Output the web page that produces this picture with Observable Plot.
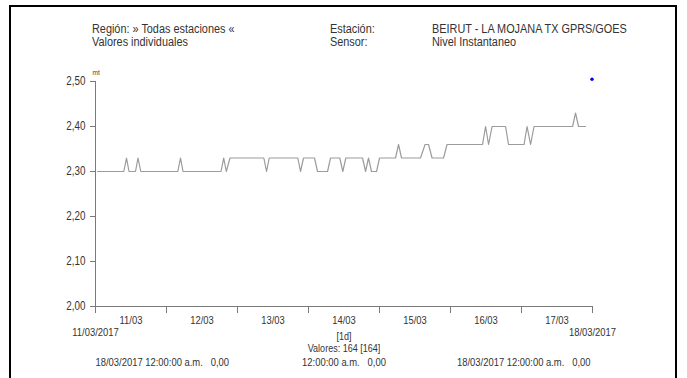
<!DOCTYPE html>
<html>
<head>
<meta charset="utf-8">
<script src="https://cdn.jsdelivr.net/npm/d3@7"></script>
<script src="https://cdn.jsdelivr.net/npm/@observablehq/plot@0.6"></script>
<style>
  html, body { margin: 0; padding: 0; background: #fff; }
  #wrap { position: relative; width: 687px; height: 378px; overflow: hidden; background: #fff;
          font-family: "Liberation Sans", Arial, sans-serif; color: #333; }
  #frame { position: absolute; left: 9px; top: 5px; width: 664px; height: 400px;
           border-left: 2px solid #000; border-top: 2px solid #000; border-right: 2px solid #000; }
  .h { position: absolute; font-size: 12.5px; white-space: pre; line-height: 12px; color: #333;
       transform: scaleX(0.87); transform-origin: 0 0; }
  #chart { position: absolute; left: 0; top: 0; }
</style>
</head>
<body>
<div id="wrap">
  <div id="chart"></div>
  <div id="frame"></div>
</div>
<script>
// ---- data ----
const times = [
  "2017-03-11T00:40","2017-03-11T09:34","2017-03-11T10:29","2017-03-11T11:20",
  "2017-03-11T13:31","2017-03-11T14:22","2017-03-11T15:19",
  "2017-03-12T03:49","2017-03-12T04:44","2017-03-12T05:35",
  "2017-03-12T18:26","2017-03-12T19:20","2017-03-12T20:13","2017-03-12T21:28",
  "2017-03-13T08:54","2017-03-13T09:49","2017-03-13T10:43",
  "2017-03-13T20:23","2017-03-13T21:18","2017-03-13T22:19",
  "2017-03-14T02:02","2017-03-14T03:03","2017-03-14T06:26","2017-03-14T07:27",
  "2017-03-14T10:35","2017-03-14T11:36","2017-03-14T12:37",
  "2017-03-14T18:16","2017-03-14T19:17","2017-03-14T20:17","2017-03-14T21:18",
  "2017-03-14T23:00","2017-03-15T00:01",
  "2017-03-15T05:25","2017-03-15T06:26","2017-03-15T07:27",
  "2017-03-15T13:52","2017-03-15T15:24","2017-03-15T16:35","2017-03-15T17:46",
  "2017-03-15T21:39","2017-03-15T22:50",
  "2017-03-16T10:50","2017-03-16T11:51","2017-03-16T12:52","2017-03-16T14:03",
  "2017-03-16T18:37","2017-03-16T19:37",
  "2017-03-17T00:52","2017-03-17T01:53","2017-03-17T03:04","2017-03-17T04:14",
  "2017-03-17T17:16","2017-03-17T18:16","2017-03-17T19:17","2017-03-17T21:39"
];
const values = [
  2.30,2.30,2.33,2.30,
  2.30,2.33,2.30,
  2.30,2.33,2.30,
  2.30,2.33,2.30,2.33,
  2.33,2.30,2.33,
  2.33,2.30,2.33,
  2.33,2.30,2.30,2.33,
  2.33,2.30,2.33,
  2.33,2.30,2.33,2.30,
  2.30,2.33,
  2.33,2.36,2.33,
  2.33,2.36,2.36,2.33,
  2.33,2.36,
  2.36,2.40,2.36,2.40,
  2.40,2.36,
  2.36,2.40,2.36,2.40,
  2.40,2.43,2.40,2.40
];
const markerTime = "2017-03-17T23:50";
const markerValue = 2.505;

const domainX = ["2017-03-11T00:00", "2017-03-18T00:00"];
const dayBounds = ["2017-03-11T00:00","2017-03-12T00:00","2017-03-13T00:00","2017-03-14T00:00",
                   "2017-03-15T00:00","2017-03-16T00:00","2017-03-17T00:00","2017-03-18T00:00"];
const dayLabels = ["11/03","12/03","13/03","14/03","15/03","16/03","17/03"];
const dayLabelTimes = ["2017-03-11T12:00","2017-03-12T12:00","2017-03-13T12:00","2017-03-14T12:00",
                       "2017-03-15T12:00","2017-03-16T12:00","2017-03-17T12:00"];
const endLabels = ["11/03/2017", "18/03/2017"];
const yTicks = [2.0, 2.1, 2.2, 2.3, 2.4, 2.5];
const yDomain = [2.0, 2.5];

const headerLeft = ["Región: » Todas estaciones «", "Valores individuales"];
const headerMid = ["Estación:", "Sensor:"];
const headerRight = ["BEIRUT - LA MOJANA TX GPRS/GOES", "Nivel Instantaneo"];
const unitLabel = "mt";
const intervalLabel = "[1d]";
const countLabel = "Valores: 164 [164]";
const footer = ["18/03/2017 12:00:00 a.m.\u00a0\u00a0\u00a00,00", "12:00:00 a.m.\u00a0\u00a0\u00a00,00", "18/03/2017 12:00:00 a.m.\u00a0\u00a0\u00a00,00"];

// ---- build ----
const parse = d3.utcParse("%Y-%m-%dT%H:%M");
const data = times.map((t, i) => ({t: parse(t), v: values[i]}));
const xDom = domainX.map(parse);
const bounds = dayBounds.map(parse);
const labelData = dayLabelTimes.map((t, i) => ({t: parse(t), s: dayLabels[i]}));
const endData = [{t: xDom[0], s: endLabels[0]}, {t: xDom[1], s: endLabels[1]}];
const fmtY = d => d.toFixed(2).replace(".", ",");
const axisColor = "#7a7a7a";
const textColor = "#333";
const fnt = "\"Liberation Sans\", Arial, sans-serif";
const fs = 11;

const chart = Plot.plot({
  width: 687, height: 378,
  marginLeft: 95, marginRight: 95, marginTop: 81, marginBottom: 72,
  style: {fontFamily: fnt, fontSize: "11px", color: textColor, background: "transparent"},
  x: {type: "utc", domain: xDom, axis: null},
  y: {domain: yDomain, axis: null},
  marks: [
    Plot.ruleY([yDomain[0]], {stroke: axisColor, strokeWidth: 1}),
    Plot.ruleX([xDom[0]], {y1: yDomain[0], y2: yDomain[1], stroke: axisColor, strokeWidth: 1}),
    Plot.axisY(yTicks, {tickSize: 5, tickPadding: 5, tickFormat: fmtY, stroke: axisColor, fill: textColor, fontSize: 12, label: null}),
    Plot.axisX(bounds, {tickSize: 7, tickFormat: () => "", stroke: axisColor, label: null}),
    Plot.text(labelData, {x: "t", text: "s", frameAnchor: "bottom", dy: 17, fill: textColor, fontSize: 11.5}),
    Plot.text(endData, {x: "t", text: "s", frameAnchor: "bottom", dy: 29, fill: textColor, fontSize: 11.5}),
    Plot.text([intervalLabel], {text: d => d, frameAnchor: "bottom", dy: 33, fill: textColor, fontSize: fs}),
    Plot.text([countLabel], {text: d => d, frameAnchor: "bottom", dy: 45, fill: textColor, fontSize: fs}),
    Plot.text([footer[0]], {text: d => d, frameAnchor: "bottom-left", textAnchor: "start", dy: 59, fill: textColor, fontSize: 11.5}),
    Plot.text([footer[1]], {text: d => d, frameAnchor: "bottom", dy: 59, fill: textColor, fontSize: 11.5}),
    Plot.text([footer[2]], {text: d => d, frameAnchor: "bottom-right", textAnchor: "end", dx: -2, dy: 59, fill: textColor, fontSize: 11.5}),
    Plot.line(data, {x: "t", y: "v", stroke: "#9c9c9c", strokeWidth: 1.2}),
    Plot.dot([{t: parse(markerTime), v: markerValue}], {x: "t", y: "v", r: 1.7, fill: "#0000ff", stroke: "none"}),
    Plot.text([unitLabel], {text: d => d, frameAnchor: "top-left", textAnchor: "start", dx: -3, dy: -12, fontSize: 8, fill: "#444"})
  ]
});
// narrow the type (Arial Narrow look): horizontal scale around each text's own anchor
d3.select(chart).selectAll("text").each(function () {
  const t = this.getAttribute("transform") || "";
  this.setAttribute("transform", (t + " scale(0.82,1)").trim());
});
document.getElementById("chart").appendChild(chart);

// header
const wrap = document.getElementById("wrap");
function addText(s, left, top) {
  const d = document.createElement("div");
  d.className = "h"; d.textContent = s;
  d.style.left = left + "px"; d.style.top = top + "px";
  wrap.appendChild(d);
}
addText(headerLeft[0], 92, 23); addText(headerLeft[1], 92, 36);
addText(headerMid[0], 330, 23); addText(headerMid[1], 330, 36);
addText(headerRight[0], 432, 23); addText(headerRight[1], 432, 36);
</script>
</body>
</html>
